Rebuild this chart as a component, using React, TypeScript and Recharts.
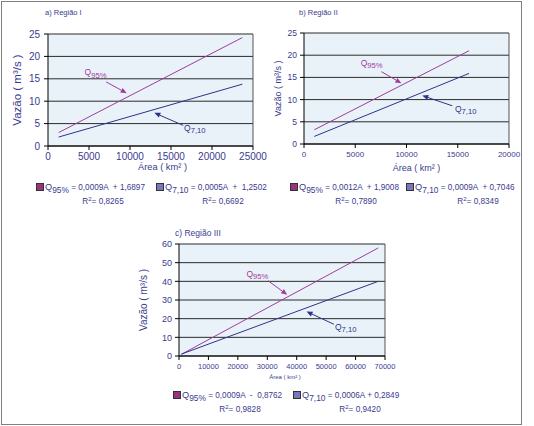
import React from 'react';
import { LineChart, Line, XAxis, YAxis, CartesianGrid, ReferenceLine, ReferenceDot } from 'recharts';

// Vazões regionalizadas x área de drenagem (três regiões)

const FONT = '"Liberation Sans", Arial, sans-serif';
const TEXT = '#3b3b8f';
const C95 = '#a03c9c';
const C710 = '#2f3388';
const PLOT_BG = '#eaf2f9';

// a) Região I
const areaI = [1300, 23700];
const q95I = [3.0, 24.2];
const q710I = [2.0, 13.8];
const xTicksI = [0, 5000, 10000, 15000, 20000, 25000];
const yTicksI = [0, 5, 10, 15, 20, 25];
const eqI = ['= 0,0009A  + 1,6897', '= 0,0005A  +  1,2502'];
const r2I = ['0,8265', '0,6692'];

// b) Região II
const areaII = [1000, 16100];
const q95II = [3.2, 21.0];
const q710II = [1.7, 15.9];
const xTicksII = [0, 5000, 10000, 15000, 20000];
const yTicksII = [0, 5, 10, 15, 20, 25];
const eqII = ['= 0,0012A  + 1,9008', '= 0,0009A  + 0,7046'];
const r2II = ['0,7890', '0,8349'];

// c) Região III
const areaIII = [800, 67700];
const q95III = [0.9, 57.9];
const q710III = [1.0, 40.0];
const xTicksIII = [0, 10000, 20000, 30000, 40000, 50000, 60000, 70000];
const yTicksIII = [0, 10, 20, 30, 40, 50, 60];
const eqIII = ['= 0,0009A  -  0,8762', '= 0,0006A + 0,2849'];
const r2III = ['0,9828', '0,9420'];

// annotation positions in data units: label, arrow tail, arrow head
const annI = [
  { sub: '95%', color: C95, at: [4460, 16.3], from: [7090, 14.3], to: [9600, 11.8] },
  { sub: '7,10', color: C710, at: [16600, 3.9], from: [16490, 4.6], to: [12970, 7.4] },
];
const annII = [
  { sub: '95%', color: C95, at: [5530, 18.1], from: [7540, 16.3], to: [9500, 13.7] },
  { sub: '7,10', color: C710, at: [14730, 7.7], from: [14470, 8.6], to: [11540, 10.9] },
];
const annIII = [
  { sub: '95%', color: C95, at: [22900, 43.5], from: [30300, 40.3], to: [36760, 32.8] },
  { sub: '7,10', color: C710, at: [53000, 15.4], from: [52640, 17.0], to: [43340, 23.8] },
];

type Ann = { sub: string; color: string; at: number[]; from: number[]; to: number[] };

function Arrow(props: any) {
  const { x1, y1, x2, y2, stroke } = props;
  const a = Math.atan2(y2 - y1, x2 - x1);
  const L = 6;
  const W = 2.6;
  const bx = x2 - L * Math.cos(a);
  const by = y2 - L * Math.sin(a);
  const pts = `${x2},${y2} ${bx + W * Math.sin(a)},${by - W * Math.cos(a)} ${bx - W * Math.sin(a)},${by + W * Math.cos(a)}`;
  return (
    <g>
      <line x1={x1} y1={y1} x2={bx} y2={by} stroke={stroke} strokeWidth={1} />
      <polygon points={pts} fill={stroke} />
    </g>
  );
}

interface PanelProps {
  left: number;
  top: number;
  width: number;
  height: number;
  marginTop: number;
  marginRight: number;
  yAxisWidth: number;
  xAxisHeight: number;
  area: number[];
  q95: number[];
  q710: number[];
  xTicks: number[];
  yTicks: number[];
  tickFont: number;
  yTickFont: number;
  xTickMargin: number;
  yTickMargin: number;
  yLabelFont: number;
  yLabelDx: number;
  xLabelFont: number;
  xLabelDx: number;
  xLabelOffset: number;
  annFont: number;
  ann: Ann[];
}

function Panel(p: PanelProps) {
  const data = p.area.map((a, i) => ({ area: a, q95: p.q95[i], q710: p.q710[i] }));
  const xMax = p.xTicks[p.xTicks.length - 1];
  const yMax = p.yTicks[p.yTicks.length - 1];
  return (
    <div style={{ position: 'absolute', left: p.left, top: p.top }}>
      <LineChart
        width={p.width}
        height={p.height}
        data={data}
        margin={{ top: p.marginTop, right: p.marginRight, left: 0, bottom: 0 }}
      >
        <CartesianGrid vertical={false} fill={PLOT_BG} stroke="#2a2a2a" strokeWidth={1} />
        <XAxis
          dataKey="area"
          type="number"
          domain={[0, xMax]}
          ticks={p.xTicks}
          interval={0}
          height={p.xAxisHeight}
          tickSize={4}
          tickMargin={p.xTickMargin}
          axisLine={{ stroke: '#000' }}
          tickLine={{ stroke: '#000' }}
          tick={{ fill: TEXT, fontSize: p.tickFont, fontFamily: FONT }}
          label={{
            value: 'Área ( km² )',
            position: 'insideBottom',
            offset: p.xLabelOffset,
            dx: p.xLabelDx,
            fill: TEXT,
            fontSize: p.xLabelFont,
            fontFamily: FONT,
          }}
        />
        <YAxis
          type="number"
          domain={[0, yMax]}
          ticks={p.yTicks}
          interval={0}
          width={p.yAxisWidth}
          tickSize={4}
          tickMargin={p.yTickMargin}
          axisLine={{ stroke: '#000' }}
          tickLine={{ stroke: '#000' }}
          tick={{ fill: TEXT, fontSize: p.yTickFont, fontFamily: FONT }}
          label={{
            value: 'Vazão ( m³/s )',
            angle: -90,
            position: 'center',
            dx: p.yLabelDx,
            fill: TEXT,
            fontSize: p.yLabelFont,
            fontFamily: FONT,
          }}
        />
        <ReferenceLine x={xMax} stroke="#555" strokeWidth={1} />
        <Line type="linear" dataKey="q95" stroke={C95} strokeWidth={1} dot={false} isAnimationActive={false} />
        <Line type="linear" dataKey="q710" stroke={C710} strokeWidth={1} dot={false} isAnimationActive={false} />
        {p.ann.map((a, i) => (
          <ReferenceLine
            key={'arr' + i}
            segment={[{ x: a.from[0], y: a.from[1] }, { x: a.to[0], y: a.to[1] }]}
            stroke={a.color}
            shape={(sp: any) => <Arrow {...sp} stroke={a.color} />}
          />
        ))}
        {p.ann.map((a, i) => (
          <ReferenceDot
            key={'lbl' + i}
            x={a.at[0]}
            y={a.at[1]}
            r={0}
            shape={(sp: any) => (
              <text
                x={sp.cx}
                y={sp.cy}
                fill={a.color}
                fontSize={p.annFont}
                fontFamily={FONT}
                dominantBaseline="middle"
              >
                Q
                <tspan dy={p.annFont * 0.3} fontSize={p.annFont * 0.9}>
                  {a.sub}
                </tspan>
              </text>
            )}
          />
        ))}
      </LineChart>
    </div>
  );
}

function Title({ x, y, size, text }: { x: number; y: number; size: number; text: string }) {
  return (
    <div
      style={{
        position: 'absolute',
        left: x,
        top: y - size / 2,
        fontSize: size,
        lineHeight: `${size}px`,
        fontFamily: FONT,
        color: TEXT,
        whiteSpace: 'nowrap',
      }}
    >
      {text}
    </div>
  );
}

function LegendEntry({ x, y, color, sub, eq }: { x: number; y: number; color: string; sub: string; eq: string }) {
  return (
    <div
      style={{
        position: 'absolute',
        left: x,
        top: y - 6,
        height: 12,
        display: 'flex',
        alignItems: 'center',
        fontFamily: FONT,
        fontSize: 8.2,
        color: TEXT,
        whiteSpace: 'pre',
      }}
    >
      <span
        style={{
          display: 'inline-block',
          width: 6,
          height: 6,
          background: color,
          border: '1px solid #333',
          marginRight: 1,
        }}
      />
      <span style={{ fontSize: 9.2 }}>Q</span>
      <span style={{ position: 'relative', top: 3, fontSize: 8.4 }}>{sub}</span>
      <span> {eq}</span>
    </div>
  );
}

function R2({ cx, y, value }: { cx: number; y: number; value: string }) {
  return (
    <div
      style={{
        position: 'absolute',
        left: cx - 30,
        width: 60,
        top: y - 6,
        lineHeight: '12px',
        textAlign: 'center',
        fontFamily: FONT,
        fontSize: 8.2,
        color: TEXT,
        whiteSpace: 'pre',
      }}
    >
      R<span style={{ fontSize: 6, position: 'relative', top: -3 }}>2</span>= {value}
    </div>
  );
}

export default function App() {
  return (
    <div
      style={{
        position: 'absolute',
        left: 0,
        top: 0,
        width: 534,
        height: 426,
        background: '#fff',
        overflow: 'hidden',
      }}
    >
      <div
        style={{
          position: 'absolute',
          left: 1,
          top: 1,
          width: 521,
          height: 424,
          boxSizing: 'border-box',
          border: '1.5px solid #808080',
        }}
      />

      <Panel
        left={0}
        top={0}
        width={270}
        height={180}
        marginTop={34}
        marginRight={17}
        yAxisWidth={48}
        xAxisHeight={34}
        area={areaI}
        q95={q95I}
        q710={q710I}
        xTicks={xTicksI}
        yTicks={yTicksI}
        tickFont={10}
        yTickFont={10}
        xTickMargin={3}
        yTickMargin={4}
        yLabelFont={11.5}
        yLabelDx={-7}
        xLabelFont={9.3}
        xLabelDx={12}
        xLabelOffset={10}
        annFont={8.5}
        ann={annI}
      />
      <Panel
        left={264}
        top={0}
        width={270}
        height={180}
        marginTop={33}
        marginRight={25}
        yAxisWidth={40}
        xAxisHeight={36}
        area={areaII}
        q95={q95II}
        q710={q710II}
        xTicks={xTicksII}
        yTicks={yTicksII}
        tickFont={8}
        yTickFont={8.5}
        xTickMargin={3}
        yTickMargin={3}
        yLabelFont={9}
        yLabelDx={-6}
        xLabelFont={9}
        xLabelDx={10}
        xLabelOffset={9}
        annFont={8.5}
        ann={annII}
      />
      <Panel
        left={130}
        top={210}
        width={270}
        height={170}
        marginTop={34}
        marginRight={15}
        yAxisWidth={49}
        xAxisHeight={24}
        area={areaIII}
        q95={q95III}
        q710={q710III}
        xTicks={xTicksIII}
        yTicks={yTicksIII}
        tickFont={7.5}
        yTickFont={9}
        xTickMargin={4}
        yTickMargin={3}
        yLabelFont={10}
        yLabelDx={-11}
        xLabelFont={6}
        xLabelDx={3}
        xLabelOffset={1}
        annFont={8.5}
        ann={annIII}
      />

      <Title x={45} y={13} size={7.5} text="a) Região I" />
      <Title x={299} y={13} size={7.5} text="b) Região II" />
      <Title x={175} y={233} size={8.5} text="c) Região III" />

      <LegendEntry x={36} y={187} color="#993380" sub="95%" eq={eqI[0]} />
      <LegendEntry x={156} y={187} color="#7777bb" sub="7,10" eq={eqI[1]} />
      <R2 cx={103} y={202} value={r2I[0]} />
      <R2 cx={223} y={202} value={r2I[1]} />

      <LegendEntry x={290} y={187} color="#993380" sub="95%" eq={eqII[0]} />
      <LegendEntry x={406} y={187} color="#7777bb" sub="7,10" eq={eqII[1]} />
      <R2 cx={356} y={202} value={r2II[0]} />
      <R2 cx={478} y={202} value={r2II[1]} />

      <LegendEntry x={173} y={395} color="#993380" sub="95%" eq={eqIII[0]} />
      <LegendEntry x={293} y={395} color="#7777bb" sub="7,10" eq={eqIII[1]} />
      <R2 cx={240} y={410} value={r2III[0]} />
      <R2 cx={360} y={410} value={r2III[1]} />
    </div>
  );
}
